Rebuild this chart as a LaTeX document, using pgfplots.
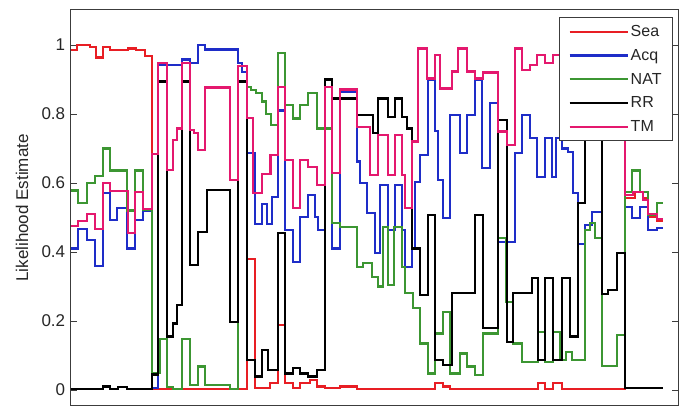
\documentclass[border=0pt]{standalone}
\usepackage{fontspec}
\setmainfont{Liberation Sans}
\usepackage{pgfplots}
\usepackage{pgfplotstable}
\pgfplotsset{compat=1.18}

\definecolor{seared}{RGB}{232,30,36}
\definecolor{acqblue}{RGB}{30,45,200}
\definecolor{natgreen}{RGB}{60,150,50}
\definecolor{tmpink}{RGB}{228,24,110}
\definecolor{framegray}{RGB}{60,60,60}

% step series: each row gives the start of a step and its level
\pgfplotstableread{
x y
71 0.985
77 1.0
90 0.993
96 0.964
103 0.993
110 0.985
128 0.99
136 0.985
145 0.967
151.7 0.003
246.7 0.38
255 0.005
270 0.02
278.3 0.188
285 0.02
293 0.005
300 0.02
310 0.03
316.7 0.01
325 0.005
340 0.01
357 0.002
435 0.02
443 0.01
450 0.002
538 0.02
545 0.003
553 0.02
562 0.003
625 0.556
635 0.575
643 0.556
648 0.502
657 0.49
663 0.49
}\sea

\pgfplotstableread{
x y
71 0.41
78.3 0.466
86.7 0.435
95 0.36
103.3 0.57
110 0.493
116.7 0.527
126.7 0.41
135 0.493
143.3 0.52
151.7 0.005
158.3 0.942
181.7 0.958
190 0.947
198.3 1.0
205 0.987
238.3 0.948
241.7 0.922
246.7 0.687
255 0.48
261.7 0.54
267 0.48
272 0.56
278 0.81
285 0.464
293.3 0.372
300 0.502
308.3 0.565
315 0.502
318 0.464
325 0.879
331.7 0.41
340 0.865
356.7 0.662
360 0.6
366.7 0.512
375 0.396
380 0.594
388.3 0.464
395 0.594
401.7 0.464
405 0.357
411.7 0.41
415 0.604
420 0.681
428.3 0.9
435 0.75
438 0.609
443.3 0.498
450 0.797
460 0.686
466.7 0.797
475 0.9
482 0.643
490 0.831
498.3 0.43
515 0.686
521.7 0.797
530 0.73
536.7 0.618
545 0.73
551.7 0.618
556 0.73
562 0.70
568 0.69
573 0.57
578.3 0.423
585 0.478
592 0.517
601.7 0.9
625 0.531
632 0.498
640 0.531
648 0.464
657 0.47
663 0.47
}\acq

\pgfplotstableread{
x y
71 0.578
78.3 0.541
86.7 0.599
95 0.621
103.3 0.70
110 0.636
126.7 0.52
135 0.636
143.3 0.522
151.7 0.05
160 0.147
166.7 0.008
173.3 0.002
181.7 0.147
190 0.014
198.3 0.068
205 0.014
230 0.002
238.3 0.94
246.7 0.879
251 0.87
256 0.86
262 0.836
266 0.80
271 0.768
278 0.976
285 0.826
293.3 0.787
300 0.826
308.3 0.86
316.7 0.758
332 0.483
340 0.473
356.7 0.357
363.3 0.367
371.7 0.328
378.3 0.30
383 0.473
388 0.304
394 0.473
402 0.357
405 0.28
413.3 0.237
420 0.135
428.3 0.048
435 0.164
443.3 0.227
450 0.048
460 0.106
466.7 0.068
475 0.043
483.3 0.164
498.3 0.44
506 0.256
513.3 0.135
521.7 0.082
538.3 0.169
545 0.082
553.3 0.169
560 0.087
566 0.111
572 0.087
585 0.464
590 0.483
595 0.44
602 0.07
617 0.159
625 0.575
632 0.636
640 0.575
648 0.507
657 0.541
663 0.541
}\nat

\pgfplotstableread{
x y
71 0.003
103.3 0.01
110 0.003
118 0.008
126.7 0.003
151.7 0.045
158.3 0.894
166.7 0.155
173.3 0.193
176.7 0.246
181.7 0.894
190 0.362
198.3 0.459
206.7 0.58
230 0.198
238.3 0.894
246.7 0.087
255 0.039
262 0.116
268.3 0.058
278.3 0.454
285 0.048
293.3 0.063
300 0.048
308.3 0.039
316.7 0.058
325 0.9
331.7 0.845
356.7 0.797
373 0.744
378.3 0.845
388.3 0.792
395 0.845
401.7 0.792
406.7 0.758
411.7 0.41
420 0.275
428.3 0.507
435 0.087
443.3 0.072
451.7 0.28
475 0.507
483.3 0.179
498.3 0.783
506.7 0.14
513.3 0.28
531.7 0.324
538.3 0.087
545 0.324
553.3 0.087
561.7 0.324
570 0.155
578.3 0.541
585 0.86
601.7 0.278
608.3 0.29
616.7 0.396
625 0.005
663 0.005
}\rr

\pgfplotstableread{
x y
71 0.475
78.3 0.49
86.7 0.51
95 0.466
103.3 0.60
110 0.577
128 0.456
135 0.573
143.3 0.524
151.7 0.684
158.3 0.947
166.7 0.638
173.3 0.725
176.7 0.758
181.7 0.947
190 0.754
194 0.744
198.3 0.696
205 0.877
230 0.609
238.3 0.94
246.7 0.788
253.3 0.571
262 0.625
270.5 0.681
278 0.879
285 0.667
293.3 0.527
300 0.667
308.3 0.647
316.7 0.594
325 0.879
331.7 0.628
340 0.871
356.7 0.763
370 0.623
378.3 0.74
388.3 0.623
395 0.74
401.7 0.623
405 0.527
411.7 0.72
418.3 0.99
426.7 0.903
435 0.971
440 0.874
451.7 0.923
458.3 0.99
466.7 0.923
475 0.903
483.3 0.92
498.3 0.749
506.7 0.71
515 0.99
521.7 0.928
530 0.942
536.7 0.971
545 0.947
553.3 0.97
625 0.565
633 0.575
643 0.55
648 0.51
657 0.495
663 0.495
}\tm

\begin{document}
\begin{tikzpicture}
\begin{axis}[
  at={(0pt,0pt)}, anchor=south west,
  scale only axis,
  width=607pt, height=396pt,
  xmin=71, xmax=678,
  ymin=-0.0464, ymax=1.1014,
  xtick=\empty,
  ytick={0,0.2,0.4,0.6,0.8,1},
  yticklabels={0,0.2,0.4,0.6,0.8,1},
  ytick pos=both,
  tick align=inside,
  major tick length=6pt,
  tick style={framegray, line width=0.8pt},
  axis line style={framegray, line width=1pt},
  font=\fontsize{17}{20}\selectfont,
  /pgf/number format/assume math mode=true,
  yticklabel style={xshift=-2.3pt, text=black!85},
  ylabel={Likelihood Estimate},
  every axis y label/.style={at={(axis description cs:-0.0807,0.5)}, rotate=90, anchor=center, text=black!85},
  legend style={
    at={(axis description cs:1,1)}, anchor=north east,
    xshift=-5pt, yshift=-7pt,
    draw=framegray, line width=0.9pt, fill=white,
    font=\fontsize{16}{17}\selectfont, text=black!85,
    row sep=7.2pt, inner xsep=9pt, inner ysep=6pt,
    cells={anchor=west},
  },
  legend image code/.code={\draw[#1, line width=2.2pt] (0pt,0pt) -- (58pt,0pt);},
  every axis plot/.append style={line width=2.2pt, const plot mark left},
]
\addplot[draw=seared] table[x=x, y=y] {\sea};
\addplot[draw=acqblue] table[x=x, y=y] {\acq};
\addplot[draw=natgreen] table[x=x, y=y] {\nat};
\addplot[draw=black] table[x=x, y=y] {\rr};
\addplot[draw=tmpink] table[x=x, y=y] {\tm};
\legend{Sea, Acq, NAT, RR, TM}
\end{axis}
\pgfresetboundingbox
\useasboundingbox (-71pt,-1pt) rectangle (610pt,406pt);
\end{tikzpicture}
\end{document}
